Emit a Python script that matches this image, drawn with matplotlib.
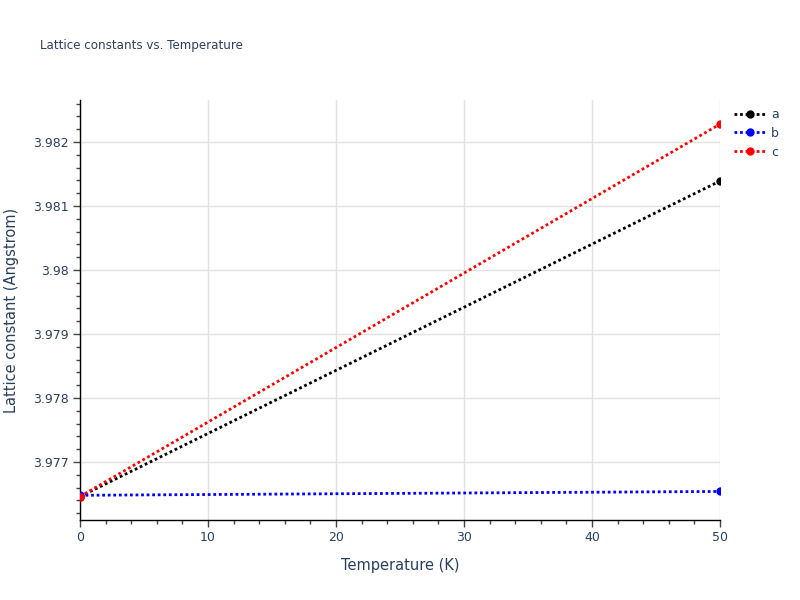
import matplotlib
matplotlib.use("Agg")
import matplotlib.pyplot as plt
from matplotlib.ticker import MultipleLocator, FuncFormatter

temperature = [0, 50]
lat_a = [3.97646, 3.98139]
lat_b = [3.97648, 3.97654]
lat_c = [3.97646, 3.98228]
series_names = ["a", "b", "c"]
colors = ["black", "blue", "red"]

plt.rcParams['font.family'] = ['DejaVu Sans']
txt = "#2a3f5f"

fig = plt.figure(figsize=(8, 6), dpi=100)
ax = fig.add_axes([0.1, 80/600, 0.8, 420/600])

for vals, name, col in zip([lat_a, lat_b, lat_c], series_names, colors):
    ax.plot(temperature, vals, color=col, linestyle=(0, (1, 1)), linewidth=2,
            marker='o', markersize=5, label=name, clip_on=True, zorder=3)

ax.set_xlim(0, 50)
ax.set_ylim(3.976094, 3.982656)
ax.xaxis.set_major_locator(MultipleLocator(10))
ax.xaxis.set_minor_locator(MultipleLocator(2))
ax.yaxis.set_major_locator(MultipleLocator(0.001))
ax.yaxis.set_minor_locator(MultipleLocator(0.0002))

def yfmt(v, p):
    s = f"{v:.3f}".rstrip('0').rstrip('.')
    return s
ax.yaxis.set_major_formatter(FuncFormatter(yfmt))

ax.grid(True, which='major', color='#e1e1e1', linewidth=1)
ax.set_axisbelow(True)
for s in ['top', 'right']:
    ax.spines[s].set_visible(False)
for s in ['left', 'bottom']:
    ax.spines[s].set_color('black')
    ax.spines[s].set_linewidth(1)
ax.tick_params(which='major', length=5, width=1, color='#444444', labelcolor=txt, labelsize=9, pad=3)
ax.tick_params(which='minor', length=3, width=1, color='#444444')

ax.set_xlabel("Temperature (K)", fontsize=10.5, color=txt, labelpad=10)
ax.set_ylabel("Lattice constant (Angstrom)", fontsize=10.5, color=txt, labelpad=10)
fig.text(40/800, 1 - 45/600, "Lattice constants vs. Temperature", fontsize=8.6, color=txt,
         ha='left', va='center')

leg = ax.legend(loc='upper left', bbox_to_anchor=(734/800, 1 - 108/600),
                bbox_transform=fig.transFigure, frameon=False, fontsize=9,
                handlelength=2.6, handletextpad=0.35, labelspacing=0.47, borderpad=0,
                borderaxespad=0)
for t in leg.get_texts():
    t.set_color(txt)

fig.savefig("out.png", dpi=100)
